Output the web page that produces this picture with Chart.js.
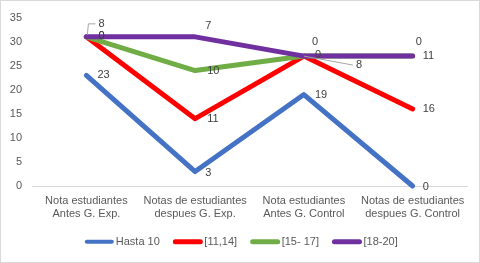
<!DOCTYPE html>
<html>
<head>
<meta charset="utf-8">
<script src="https://cdn.jsdelivr.net/npm/chart.js@4/dist/chart.umd.min.js"></script>
<style>
html,body{margin:0;padding:0;background:#fff;}
#wrap{position:relative;width:480px;height:263px;box-sizing:border-box;border:1px solid #d9d9d9;}
canvas{display:block;}
</style>
</head>
<body>
<div id="wrap"><canvas id="c" width="478" height="261"></canvas></div>
<script>
// ---- data ----
const categories = [
  ["Nota estudiantes", "Antes G. Exp."],
  ["Notas de estudiantes", "despues G. Exp."],
  ["Nota estudiantes", "Antes G. Control"],
  ["Notas de estudiantes", "despues G. Control"]
];
const seriesNames = ["Hasta 10", "[11,14]", "[15- 17]", "[18-20]"];
const hasta10 = [23, 3, 19, 0];
const r11_14 = [8, 11, 8, 16];
const r15_17 = [0, 10, 0, 11];
const r18_20 = [0, 7, 0, 0];
const yTicks = [0, 5, 10, 15, 20, 25, 30, 35];

// ---- style ----
const colors = ["#4472C4", "#FF0000", "#70AD47", "#7030A0"];
// label offsets (left-aligned text, relative to point pixel) per series/point
const labelOffsets = [
  [[11, 0], [10, 1], [11, 0], [10, 1]],
  [[12, -13, 'elbow'], [12, 0], [52, 9, 'line'], [10, 0]],
  [[12, -1], [12, 0], [11, -1], [10, 0]],
  [[12, -1], [10, -11], [8, -14], [3, -14]]
];
const FONT = "'Liberation Sans', Arial, sans-serif";
const TXT = "#595959";

const values = [hasta10, r11_14, r15_17, r18_20];

const orderPlugin = {
  id: 'orderPlugin',
  beforeDatasetsDraw(chart) {
    const metas = chart.getSortedVisibleDatasetMetas().slice().sort((a, b) => a.index - b.index);
    const ctx = chart.ctx, area = chart.chartArea;
    for (const meta of metas) {
      ctx.save();
      ctx.beginPath();
      ctx.rect(area.left - 5, area.top - 10, area.right - area.left + 10, area.bottom - area.top + 15);
      ctx.clip();
      meta.controller.draw();
      ctx.restore();
    }
    return false;
  }
};

const labelPlugin = {
  id: 'labelPlugin',
  afterDraw(chart) {
    const ctx = chart.ctx;
    ctx.save();
    ctx.font = "11px " + FONT;
    ctx.textAlign = 'left';
    ctx.textBaseline = 'middle';
    chart.data.datasets.forEach((ds, di) => {
      const meta = chart.getDatasetMeta(di);
      meta.data.forEach((pt, i) => {
        const off = labelOffsets[di][i];
        const lx = pt.x + off[0], ly = pt.y + off[1];
        if (off[2]) {
          ctx.strokeStyle = '#a6a6a6';
          ctx.lineWidth = 1;
          ctx.beginPath();
          if (off[2] === 'elbow') {
            ctx.moveTo(pt.x + 1, pt.y - 2);
            ctx.lineTo(pt.x + 2, ly);
            ctx.lineTo(lx - 3, ly);
          } else {
            ctx.moveTo(pt.x, pt.y);
            ctx.lineTo(lx - 3, ly);
          }
          ctx.stroke();
        }
        ctx.fillStyle = '#404040';
        ctx.fillText(String(ds.data[i]), lx, ly);
      });
    });
    ctx.restore();
  }
};

// legend drawn below the axis (Excel-like: sample line, small gap, text)
const legendPlugin = {
  id: 'customLegend',
  afterDraw(chart) {
    const ctx = chart.ctx;
    ctx.save();
    ctx.font = "11px " + FONT;
    ctx.textBaseline = 'middle';
    ctx.textAlign = 'left';
    const sample = 30, gapT = 1.5, gapI = 13;
    const items = chart.data.datasets.map((ds, i) => ({
      label: ds.label, color: ds.borderColor, w: ctx.measureText(ds.label).width
    }));
    const total = items.reduce((s, it) => s + sample + gapT + it.w, 0) + gapI * (items.length - 1);
    let x = chart.width / 2 + 1 - total / 2;
    const y = 240.7;
    items.forEach((it, i) => {
      ctx.strokeStyle = it.color;
      ctx.lineWidth = i === 0 ? 4 : 5;
      ctx.lineCap = 'round';
      ctx.beginPath();
      ctx.moveTo(x + 2.5, y);
      ctx.lineTo(x + sample - 2.5, y);
      ctx.stroke();
      ctx.fillStyle = TXT;
      ctx.fillText(it.label, x + sample + gapT, y);
      x += sample + gapT + it.w + gapI;
    });
    ctx.restore();
  }
};

new Chart(document.getElementById('c'), {
  type: 'line',
  data: {
    labels: categories,
    datasets: seriesNames.map((name, i) => ({
      label: name,
      data: values[i],
      borderColor: colors[i],
      backgroundColor: colors[i],
      borderWidth: 5,
      borderCapStyle: 'round',
      borderJoinStyle: 'round',
      pointRadius: 0,
      pointHoverRadius: 0,
      tension: 0,
      fill: false
    }))
  },
  options: {
    responsive: false,
    animation: false,
    events: [],
    layout: { padding: { top: 13, right: 12, left: 0, bottom: 36 } },
    scales: {
      x: {
        offset: true,
        grid: { display: false, drawTicks: false },
        border: { display: true, color: '#d9d9d9', width: 1 },
        ticks: { color: TXT, font: { family: FONT, size: 11 }, padding: 8, maxRotation: 0, autoSkip: false },
        afterFit(scale) { scale.height = 40; }
      },
      y: {
        stacked: true,
        min: 0, max: 35,
        afterBuildTicks(scale) { scale.ticks = yTicks.map(v => ({ value: v })); },
        grid: { display: false, drawTicks: false },
        border: { display: false },
        ticks: { color: TXT, font: { family: FONT, size: 11 }, padding: 10 },
        afterFit(scale) { scale.width = 31; }
      }
    },
    plugins: {
      tooltip: { enabled: false },
      legend: { display: false }
    }
  },
  plugins: [orderPlugin, labelPlugin, legendPlugin]
});
</script>
</body>
</html>
